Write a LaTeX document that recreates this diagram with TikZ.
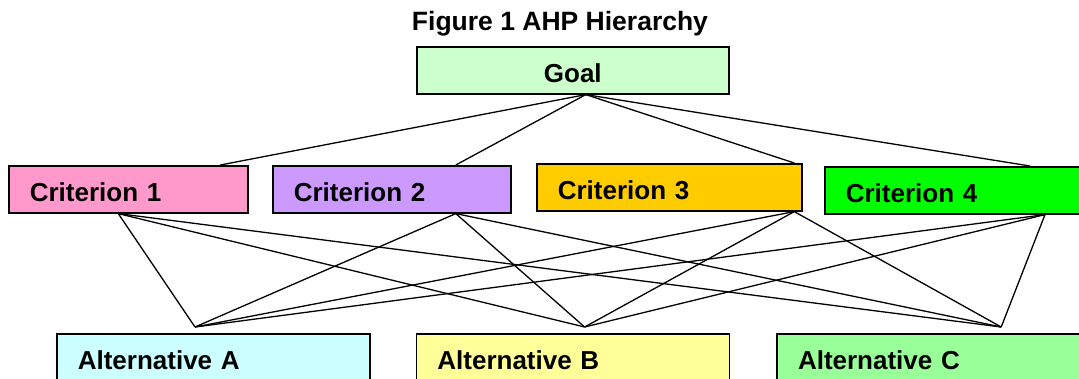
\documentclass[tikz,border=0pt]{standalone}
\usepackage{fontspec}
\setmainfont{Liberation Sans}
\usetikzlibrary{positioning}
\definecolor{goalfill}{HTML}{CCFFCC}
\definecolor{critone}{HTML}{FF99CC}
\definecolor{crittwo}{HTML}{CC99FF}
\definecolor{critthree}{HTML}{FFCC00}
\definecolor{critfour}{HTML}{00FF00}
\definecolor{alta}{HTML}{CCFFFF}
\definecolor{altb}{HTML}{FFFF99}
\definecolor{altc}{HTML}{99FF99}
\begin{document}
\begin{tikzpicture}[x=1pt, y=-1pt, line width=1.3pt,
    font=\fontsize{26}{30}\selectfont\bfseries,
    box/.style={draw, line width=1.6pt, rectangle, anchor=north west, minimum height=47pt, inner xsep=21pt, inner ysep=0pt, text height=25pt, text depth=0pt, align=left}]
    \useasboundingbox (0,0) rectangle (1079,378);
    \clip (0,0) rectangle (1079,378);
    \node (title) at (560,24) {\fontsize{26.5}{30}\selectfont Figure 1 AHP Hierarchy};
    \node[box, fill=goalfill, text width=270pt, align=center] (goal) at (416,46) {Goal};
    \node[box, fill=critone, text width=197pt] (c1) at (8,165) {Criterion 1};
    \node[box, fill=crittwo, text width=196pt] (c2) at (272,165) {Criterion 2};
    \node[box, fill=critthree, text width=223pt] (c3) at (536,163) {Criterion 3};
    \node[box, fill=critfour, text width=223pt] (c4) at (824,166) {Criterion 4};
    \node[box, fill=alta, text width=271pt] (a) at (56,333) {Alternative A};
    \node[box, fill=altb, text width=271pt, right=45pt of a] (b) {Alternative B};
    \node[box, fill=altc, text width=271pt, right=46pt of b] (c) {Alternative C};
    \coordinate (apex) at ([xshift=13pt]goal.south);
    \coordinate (c1t) at ([xshift=92pt]c1.north);
    \coordinate (c2t) at ([xshift=64pt]c2.north);
    \coordinate (c3t) at ([xshift=125pt]c3.north);
    \coordinate (c4t) at ([xshift=206pt]c4.north west);
    \coordinate (c1b) at ([xshift=-10pt]c1.south);
    \coordinate (c2b) at ([xshift=64pt]c2.south);
    \coordinate (c3b) at ([xshift=125pt]c3.south);
    \coordinate (c4b) at ([xshift=221pt]c4.south west);
    \coordinate (pa) at ([xshift=139pt, yshift=6pt]a.north west);
    \coordinate (pb) at ([xshift=169pt, yshift=6pt]b.north west);
    \coordinate (pc) at ([xshift=225pt, yshift=6pt]c.north west);
    \foreach \i in {1,...,4} \draw (apex) -- (c\i t);
    \foreach \i in {1,...,4}
        \foreach \p in {pa,pb,pc} \draw (c\i b) -- (\p);
\end{tikzpicture}
\end{document}
